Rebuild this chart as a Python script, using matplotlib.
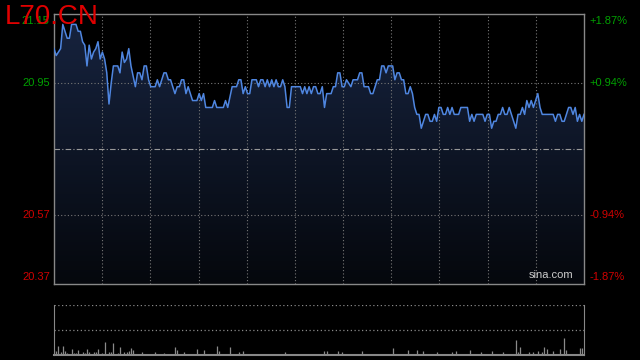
import numpy as np
import matplotlib
matplotlib.use('Agg')
from matplotlib import pyplot as plt
from matplotlib import transforms

plt.rcParams['font.family'] = ['Liberation Sans', 'DejaVu Sans']

# Data: (minute index, price)
minutes = [0, 1, 2, 3, 4, 5, 6, 7, 8, 9, 10, 11, 12, 13, 14, 15, 16, 17, 18, 19,
           20, 21, 22, 23, 24, 25, 26, 27, 29, 30, 31, 32, 33, 34, 35, 36, 37, 38, 39, 40,
           41, 42, 43, 44, 46, 47, 48, 49, 50, 51, 52, 53, 55, 56, 57, 58, 59, 60, 61, 63,
           65, 66, 67, 68, 69, 72, 73, 74, 77, 78, 79, 81, 83, 84, 85, 86, 87, 88, 89, 90,
           92, 93, 94, 95, 96, 97, 98, 99, 100, 101, 102, 103, 104, 105, 106, 107, 108, 112, 113, 114,
           115, 116, 117, 118, 119, 120, 121, 122, 123, 124, 126, 127, 128, 129, 130, 131, 132, 133, 135, 136,
           138, 139, 140, 141, 143, 144, 145, 147, 148, 149, 150, 151, 152, 154, 155, 156, 157, 158, 159, 160,
           161, 162, 163, 164, 165, 166, 167, 169, 170, 171, 172, 173, 174, 175, 176, 177, 178, 179, 180, 181,
           182, 184, 185, 188, 189, 190, 191, 192, 195, 196, 197, 198, 199, 200, 201, 202, 203, 204, 205, 206,
           207, 208, 209, 210, 211, 212, 213, 214, 215, 216, 217, 218, 219, 220, 221, 222, 227, 228, 229, 230,
           231, 232, 233, 234, 235, 236, 237, 238, 239, 240, 241]
prices = [21.05, 21.03, 21.04, 21.05, 21.12, 21.10, 21.08, 21.08, 21.12, 21.12, 21.12, 21.10, 21.10, 21.07, 21.06, 21.00, 21.06, 21.02, 21.04, 21.05,
          21.07, 21.02, 21.04, 21.02, 20.98, 20.89, 20.95, 21.00, 21.00, 20.98, 21.04, 21.01, 21.02, 21.05, 21.00, 20.97, 20.94, 20.98, 20.98, 20.96,
          21.00, 21.00, 20.96, 20.94, 20.94, 20.96, 20.94, 20.96, 20.98, 20.98, 20.96, 20.96, 20.92, 20.94, 20.94, 20.96, 20.96, 20.92, 20.94, 20.90,
          20.90, 20.92, 20.90, 20.92, 20.88, 20.88, 20.90, 20.88, 20.88, 20.90, 20.88, 20.94, 20.94, 20.96, 20.96, 20.92, 20.94, 20.92, 20.92, 20.96,
          20.96, 20.94, 20.96, 20.96, 20.94, 20.96, 20.94, 20.96, 20.94, 20.96, 20.94, 20.94, 20.96, 20.94, 20.88, 20.88, 20.94, 20.94, 20.92, 20.94,
          20.92, 20.94, 20.92, 20.94, 20.94, 20.92, 20.92, 20.94, 20.88, 20.92, 20.92, 20.94, 20.94, 20.98, 20.98, 20.94, 20.94, 20.96, 20.94, 20.96,
          20.96, 20.98, 20.98, 20.94, 20.94, 20.92, 20.92, 20.96, 20.96, 21.00, 21.00, 20.98, 21.00, 21.00, 20.96, 20.98, 20.98, 20.96, 20.96, 20.92,
          20.92, 20.94, 20.92, 20.88, 20.86, 20.86, 20.82, 20.86, 20.86, 20.84, 20.84, 20.86, 20.84, 20.88, 20.88, 20.86, 20.86, 20.88, 20.86, 20.88,
          20.86, 20.86, 20.88, 20.88, 20.84, 20.86, 20.84, 20.86, 20.86, 20.84, 20.86, 20.86, 20.82, 20.84, 20.84, 20.86, 20.86, 20.88, 20.86, 20.86,
          20.88, 20.86, 20.84, 20.82, 20.86, 20.86, 20.88, 20.86, 20.90, 20.88, 20.90, 20.88, 20.90, 20.92, 20.88, 20.86, 20.86, 20.84, 20.86, 20.86,
          20.84, 20.84, 20.86, 20.88, 20.88, 20.86, 20.88, 20.84, 20.86, 20.84, 20.86]

# Volume bars (minute index, height)
vol_minutes = [0, 1, 2, 3, 4, 5, 6, 8, 9, 10, 11, 13, 14, 15, 16, 18, 19, 20, 22, 23,
               25, 26, 27, 29, 30, 32, 33, 34, 35, 36, 40, 46, 50, 55, 56, 59, 65, 68, 74, 75,
               80, 84, 86, 105, 123, 124, 129, 131, 140, 154, 161, 165, 168, 174, 181, 183, 189, 194, 199, 204,
               210, 211, 212, 216, 218, 220, 222, 223, 224, 227, 230, 232, 233, 239, 240]
volumes = [5, 4, 9, 3, 9, 4, 2, 6, 2, 2, 5, 3, 2, 6, 3, 3, 3, 6, 2, 13,
           3, 3, 12, 2, 8, 3, 3, 4, 7, 5, 3, 3, 2, 8, 5, 3, 6, 5, 9, 4,
           8, 3, 4, 3, 4, 4, 4, 3, 4, 7, 5, 5, 4, 3, 3, 4, 5, 3, 4, 3,
           15, 3, 8, 3, 3, 4, 3, 8, 6, 4, 6, 17, 5, 7, 7]

prev_close = 20.76
left_ticks = [21.15, 20.95, 20.57, 20.37]
right_labels = ['+1.87%', '+0.94%', '-0.94%', '-1.87%']
tick_colors = ['#00a000', '#00a000', '#d00000', '#d00000']

fig = plt.figure(figsize=(6.4, 3.6), dpi=100)
fig.patch.set_facecolor('black')

ax = fig.add_axes([54 / 640, 76 / 360, 530 / 640, 270 / 360])
ax.set_facecolor('black')
ax.set_xlim(0, 241)
ax.set_ylim(20.37, 21.15)

# gradient fill under the line
grad = np.linspace(1, 0, 256).reshape(-1, 1)
top_c = np.array([0.09, 0.14, 0.25])
bot_c = np.array([0.02, 0.03, 0.05])
img = bot_c + (top_c - bot_c) * grad[..., None]
im = ax.imshow(img, extent=[0, 241, 20.37, 21.15], aspect='auto', zorder=1)
poly = ax.fill_between(minutes, prices, 20.37, color='none', lw=0)
im.set_clip_path(poly.get_paths()[0], transform=ax.transData)

ax.plot(minutes, prices, color='#4f86e0', lw=1.1, zorder=3)

# grid
for xv in np.linspace(0, 241, 12)[1:-1]:
    ax.axvline(xv, color='#777777', lw=0.8, ls=(0, (1, 2)), zorder=2)
for yv in [20.95, 20.57]:
    ax.axhline(yv, color='#777777', lw=0.8, ls=(0, (1, 2)), zorder=2)
ax.axhline(prev_close, color='#999999', lw=0.8, ls=(0, (5, 2, 1, 2)), zorder=2)

for s in ax.spines.values():
    s.set_color('#888888')
    s.set_linewidth(1)
ax.set_xticks([])
ax.set_yticks([])

tl = transforms.blended_transform_factory(ax.transAxes, ax.transData)
for i, (v, lab, c) in enumerate(zip(left_ticks, right_labels, tick_colors)):
    va = 'center'
    off = 0
    if i == 0:
        off = -0.02
    if i == 3:
        off = 0.02
    ax.text(-0.008, v + off, '%.2f' % v, transform=tl, ha='right', va=va,
            color=c, fontsize=8)
    ax.text(1.01, v + off, lab, transform=tl, ha='left', va=va,
            color=c, fontsize=8)

ax.text(0.98, 0.015, 'sina.com', transform=ax.transAxes, ha='right', va='bottom',
        color='#cccccc', fontsize=8)

fig.text(5 / 640, 1 - 4 / 360, 'L70.CN', color='#e00000', fontsize=20,
         ha='left', va='top')

# volume panel
vax = fig.add_axes([54 / 640, 5 / 360, 530 / 640, 50 / 360])
vax.set_facecolor('black')
vax.set_xlim(0, 241)
vax.set_ylim(0, 50)
vax.vlines(vol_minutes, 0, volumes, color='#8a8a8a', lw=0.9)
vax.axhline(50, color='#888888', lw=0.9, ls=(0, (1, 2)))
vax.axhline(25, color='#888888', lw=0.9, ls=(0, (1, 2)))
vax.spines['top'].set_visible(False)
for k in ['left', 'right', 'bottom']:
    vax.spines[k].set_color('#888888')
vax.spines['bottom'].set_linewidth(1.5)
vax.spines['bottom'].set_linestyle((0, (1, 1)))
vax.set_xticks([])
vax.set_yticks([])

fig.savefig('out.png', dpi=100, facecolor='black')
